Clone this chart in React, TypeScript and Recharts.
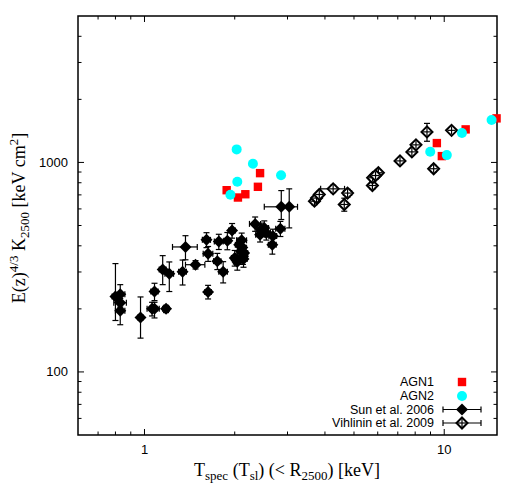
import React from 'react';
import { ScatterChart, Scatter, XAxis, YAxis, ErrorBar, ReferenceArea, Legend } from 'recharts';

// ---------- data ----------
const agn1T = [2.43, 2.39, 1.88, 2.17, 2.05, 9.45, 9.82, 11.79, 14.95];
const agn1K = [889, 765, 737, 705, 680, 1237, 1072, 1438, 1623];

const agn2T = [2.03, 2.30, 2.04, 2.855, 1.935, 8.98, 10.2, 11.46, 14.39];
const agn2K = [1154, 986, 808, 869, 701, 1125, 1084, 1381, 1594];

const sunT = [0.80, 0.83, 0.83, 0.83, 0.97, 1.06, 1.08, 1.08, 1.18, 1.15, 1.21, 1.34, 1.48, 1.37, 1.61, 1.63, 1.63, 1.77, 1.75, 1.83, 1.89, 1.96, 2.11, 2.12, 2.00, 2.13, 2.15, 2.10, 2.14, 2.34, 2.51, 2.55, 2.45, 2.43, 2.84, 2.68, 2.67, 2.86, 3.04, 2.04, 2.07];
const sunK = [229, 235, 214, 196, 182, 200, 242, 200, 200, 308, 294, 301, 325, 395, 427, 367, 241, 419, 338, 301, 423, 473, 425, 393, 350, 356, 370, 376, 346, 509, 486, 461, 478, 452, 483, 445, 405, 614, 614, 336, 405];
const sunTErr: (number | number[])[] = [0.02, 0.03, 0.04, 0.03, 0.02, 0.04, 0.03, 0.04, 0.03, 0.03, 0.04, 0.04, 0.11, 0.13, 0.05, 0.06, 0.04, 0.06, 0.05, 0.06, 0.05, 0.05, 0.08, 0.06, 0.05, 0.06, 0.06, 0.06, 0.06, 0.1, 0.08, 0.08, 0.08, 0.08, 0.1, 0.08, 0.08, [0.35, 0.2], 0.2, 0.06, 0.06];
const sunKErr: (number | number[])[] = [[53, 100], [22, 26], 10, [28, 15], [37, 46], 15, 23, [19, 15], 8, [47, 51], [52, 41], 41, 15, 52, 35, 30, 18, 35, 30, 35, 40, 38, 35, 30, 30, 30, 30, 30, 30, 40, 40, 35, 35, 35, 40, 35, 40, [80, 120], [127, 134], 30, 30];

const vikhT = [3.69, 3.75, 3.83, 4.26, 4.76, 4.64, 5.76, 5.77, 6.03, 5.90, 7.12, 7.80, 8.05, 8.76, 9.22, 10.58];
const vikhK = [653, 676, 703, 748, 714, 630, 776, 845, 893, 866, 1017, 1123, 1213, 1399, 933, 1423];
const vikhTErr = [0.08, 0.08, 0.08, 0.39, 0.15, 0.1, 0.1, 0.1, 0.1, 0.1, 0.12, 0.12, 0.12, 0.15, 0.15, 0.15];
const vikhKErr = [25, 25, 25, 30, 30, 45, 30, 30, 30, 30, 35, 35, 35, 137, 35, 40];

const xTicks = [0.7, 0.8, 0.9, 1, 2, 3, 4, 5, 6, 7, 8, 9, 10];
const yTicks = [60, 70, 80, 90, 100, 200, 300, 400, 500, 600, 700, 800, 900, 1000, 2000, 3000, 4000];
const xMajor = [1, 10];
const yMajor = [100, 1000];

const legendNames = ['AGN1', 'AGN2', 'Sun et al. 2006', 'Vihlinin et al. 2009'];

// ---------- tables ----------
const agn1Data = agn1T.map((x, i) => ({ x, y: agn1K[i] }));
const agn2Data = agn2T.map((x, i) => ({ x, y: agn2K[i] }));
const sunData = sunT.map((x, i) => ({ x, y: sunK[i], xe: sunTErr[i], ye: sunKErr[i] }));
const vikhData = vikhT.map((x, i) => ({ x, y: vikhK[i], xe: vikhTErr[i], ye: vikhKErr[i] }));

// ---------- layout ----------
const W = 526;
const H = 491;
const PLOT_TOP = 16;
const PLOT_BOTTOM = 435;
const PLOT_LEFT = 78;
const PLOT_RIGHT = 497;
const SANS = "'Liberation Sans', Arial, Helvetica, sans-serif";
const SERIF = "'Liberation Serif', 'Times New Roman', serif";

const XTick = (props: any) => {
  const { x, payload } = props;
  const v = payload.value;
  const major = xMajor.includes(v);
  const len = major ? 6 : 3.5;
  return (
    <g>
      <line x1={x} x2={x} y1={PLOT_BOTTOM} y2={PLOT_BOTTOM - len} stroke="#000" strokeWidth={1} />
      <line x1={x} x2={x} y1={PLOT_TOP} y2={PLOT_TOP + len} stroke="#000" strokeWidth={1} />
      {major && (
        <text x={x} y={PLOT_BOTTOM + 19} textAnchor="middle" fontFamily={SANS} fontSize={13} fill="#000">
          {v}
        </text>
      )}
    </g>
  );
};

const YTick = (props: any) => {
  const { y, payload } = props;
  const v = payload.value;
  const major = yMajor.includes(v);
  const len = major ? 6 : 3.5;
  return (
    <g>
      <line x1={PLOT_LEFT} x2={PLOT_LEFT + len} y1={y} y2={y} stroke="#000" strokeWidth={1} />
      <line x1={PLOT_RIGHT} x2={PLOT_RIGHT - len} y1={y} y2={y} stroke="#000" strokeWidth={1} />
      {major && (
        <text x={PLOT_LEFT - 10} y={y + 4.5} textAnchor="end" fontFamily={SANS} fontSize={13} fill="#000">
          {v}
        </text>
      )}
    </g>
  );
};

const XTitle = () => (
  <text x={287} y={476} textAnchor="middle" fontFamily={SERIF} fontSize={18} fill="#000">
    T<tspan fontSize={13} dy={4}>spec</tspan>
    <tspan dy={-4}> (T</tspan>
    <tspan fontSize={13} dy={4}>sl</tspan>
    <tspan dy={-4}>) (&lt; R</tspan>
    <tspan fontSize={13} dy={4}>2500</tspan>
    <tspan dy={-4}>) [keV]</tspan>
  </text>
);

const YTitle = () => (
  <text
    transform="rotate(-90)"
    x={-218}
    y={25}
    textAnchor="middle"
    fontFamily={SERIF}
    fontSize={18}
    fill="#000"
  >
    E(z)<tspan fontSize={13} dy={-7}>4/3</tspan>
    <tspan dy={7}> K</tspan>
    <tspan fontSize={13} dy={4}>2500</tspan>
    <tspan dy={-4}> [keV cm</tspan>
    <tspan fontSize={13} dy={-7}>2</tspan>
    <tspan dy={7}>]</tspan>
  </text>
);

const SunShape = (p: any) => {
  const { cx, cy } = p;
  const r = 6;
  return <path d={`M${cx},${cy - r}L${cx + r},${cy}L${cx},${cy + r}L${cx - r},${cy}Z`} fill="#000" />;
};

const VikhShape = (p: any) => {
  const { cx, cy } = p;
  const r = 5.5;
  return (
    <g>
      <path d={`M${cx},${cy - r}L${cx + r},${cy}L${cx},${cy + r}L${cx - r},${cy}Z`} fill="#fff" stroke="#000" strokeWidth={2} />
      <line x1={cx - r + 1.5} x2={cx + r - 1.5} y1={cy} y2={cy} stroke="#000" strokeWidth={1.2} />
      <line x1={cx} x2={cx} y1={cy - r + 1.5} y2={cy + r - 1.5} stroke="#000" strokeWidth={1.2} />
    </g>
  );
};

const Agn1Shape = (p: any) => {
  const { cx, cy } = p;
  return <rect x={cx - 4.2} y={cy - 4.2} width={8.4} height={8.4} fill="#ff0000" />;
};

const Agn2Shape = (p: any) => {
  const { cx, cy } = p;
  return <circle cx={cx} cy={cy} r={5} fill="#00ffff" />;
};

const LegendContent = () => {
  const textX = 144;
  const symX = 172;
  const rows = [10, 24, 37.5, 51];
  return (
    <svg width={220} height={64} style={{ display: 'block', overflow: 'visible' }}>
      {legendNames.map((name, i) => (
        <text key={name} x={textX} y={rows[i] + 4.3} textAnchor="end" fontFamily={SANS} fontSize={12.5} fill="#000">
          {name}
        </text>
      ))}
      <rect x={symX - 4.2} y={rows[0] - 4.2} width={8.4} height={8.4} fill="#ff0000" />
      <circle cx={symX} cy={rows[1]} r={5} fill="#00ffff" />
      {[2, 3].map((i) => (
        <g key={i}>
          <line x1={symX - 19} x2={symX + 19} y1={rows[i]} y2={rows[i]} stroke="#000" strokeWidth={1.2} />
          <line x1={symX - 19} x2={symX - 19} y1={rows[i] - 3} y2={rows[i] + 3} stroke="#000" strokeWidth={1.2} />
          <line x1={symX + 19} x2={symX + 19} y1={rows[i] - 3} y2={rows[i] + 3} stroke="#000" strokeWidth={1.2} />
          {i === 2 ? (
            <SunShape cx={symX} cy={rows[i]} />
          ) : (
            <VikhShape cx={symX} cy={rows[i]} />
          )}
        </g>
      ))}
    </svg>
  );
};

export default function App() {
  return (
    <div style={{ position: 'absolute', left: 0, top: 0, width: W, height: H, background: '#fff' }}>
      <ScatterChart width={W} height={H} margin={{ top: PLOT_TOP, right: W - PLOT_RIGHT, left: 0, bottom: 0 }}>
        <XAxis
          type="number"
          dataKey="x"
          scale="log"
          domain={[0.6, 15]}
          ticks={xTicks}
          interval={0}
          tick={<XTick />}
          tickLine={false}
          axisLine={false}
          height={H - PLOT_BOTTOM}
          label={<XTitle />}
        />
        <YAxis
          type="number"
          dataKey="y"
          scale="log"
          domain={[50, 5000]}
          ticks={yTicks}
          interval={0}
          tick={<YTick />}
          tickLine={false}
          axisLine={false}
          width={PLOT_LEFT}
          label={<YTitle />}
        />
        <ReferenceArea x1={0.6} x2={15} y1={50} y2={5000} fill="none" stroke="#000" strokeWidth={1.5} />
        <Legend
          layout="horizontal"
          verticalAlign="middle"
          align="center"
          content={<LegendContent />}
          wrapperStyle={{ left: 290, top: 372, width: 220, height: 64 }}
        />
        <Scatter name="Sun et al. 2006" data={sunData} shape={<SunShape />} isAnimationActive={false}>
          <ErrorBar dataKey="ye" direction="y" width={3} stroke="#000" strokeWidth={1.2} />
          <ErrorBar dataKey="xe" direction="x" width={3} stroke="#000" strokeWidth={1.2} />
        </Scatter>
        <Scatter name="Vihlinin et al. 2009" data={vikhData} shape={<VikhShape />} isAnimationActive={false}>
          <ErrorBar dataKey="ye" direction="y" width={3} stroke="#000" strokeWidth={1.2} />
          <ErrorBar dataKey="xe" direction="x" width={3} stroke="#000" strokeWidth={1.2} />
        </Scatter>
        <Scatter name="AGN1" data={agn1Data} shape={<Agn1Shape />} isAnimationActive={false} />
        <Scatter name="AGN2" data={agn2Data} shape={<Agn2Shape />} isAnimationActive={false} />
      </ScatterChart>
    </div>
  );
}
